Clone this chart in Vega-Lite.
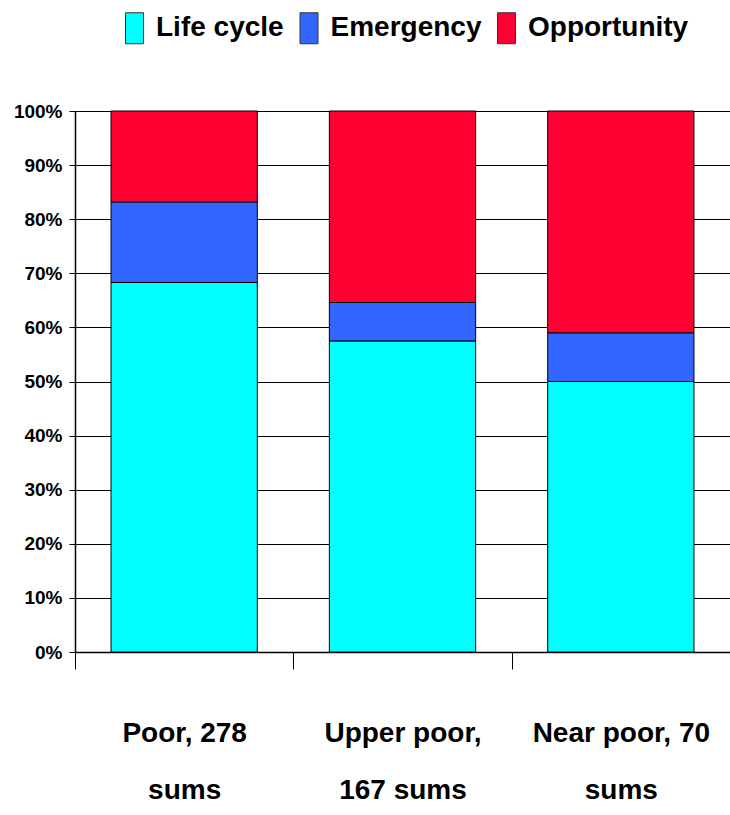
{
  "$schema": "https://vega.github.io/schema/vega-lite/v6.json",
  "autosize": {"type": "none"},
  "width": 655,
  "height": 541,
  "padding": {"left": 75, "top": 111, "right": 0, "bottom": 163},
  "background": "white",
  "config": {
    "view": {"stroke": null},
    "font": "Liberation Sans"
  },
  "data": {
    "values": [
      {"group": "Poor, 278 sums", "type": "Life cycle", "order": 1, "share": 68.3},
      {"group": "Poor, 278 sums", "type": "Emergency", "order": 2, "share": 14.9},
      {"group": "Poor, 278 sums", "type": "Opportunity", "order": 3, "share": 16.8},
      {"group": "Upper poor, 167 sums", "type": "Life cycle", "order": 1, "share": 57.5},
      {"group": "Upper poor, 167 sums", "type": "Emergency", "order": 2, "share": 7.1},
      {"group": "Upper poor, 167 sums", "type": "Opportunity", "order": 3, "share": 35.4},
      {"group": "Near poor, 70 sums", "type": "Life cycle", "order": 1, "share": 50.0},
      {"group": "Near poor, 70 sums", "type": "Emergency", "order": 2, "share": 9.0},
      {"group": "Near poor, 70 sums", "type": "Opportunity", "order": 3, "share": 41.0}
    ]
  },
  "mark": {"type": "bar", "stroke": "#000000", "strokeWidth": 1, "width": {"band": 0.67}},
  "encoding": {
    "x": {
      "field": "group",
      "type": "nominal",
      "sort": ["Poor, 278 sums", "Upper poor, 167 sums", "Near poor, 70 sums"],
      "scale": {"paddingInner": 0, "paddingOuter": 0},
      "axis": {
        "title": null,
        "labelAngle": 0,
        "labelFont": "Liberation Sans",
        "labelFontSize": 28,
        "labelFontWeight": "bold",
        "labelColor": "#000000",
        "labelLineHeight": 57,
        "labelBaseline": "top",
        "labelPadding": 50,
        "labelLimit": 0,
        "labelExpr": "!datum.label ? '' : (datum.label == 'Upper poor, 167 sums' ? ['Upper poor,', '167 sums'] : [replace(datum.label, ' sums', ''), 'sums'])",
        "tickBand": "extent",
        "tickSize": 17,
        "tickColor": "#000000",
        "tickWidth": 1,
        "domainColor": "#000000",
        "domainWidth": 1.5,
        "grid": false
      }
    },
    "y": {
      "field": "share",
      "type": "quantitative",
      "stack": "zero",
      "scale": {"domain": [0, 100], "nice": false},
      "axis": {
        "title": null,
        "values": [0, 10, 20, 30, 40, 50, 60, 70, 80, 90, 100],
        "labelExpr": "datum.value + '%'",
        "labelFont": "Liberation Sans",
        "labelFontSize": 19,
        "labelFontWeight": "bold",
        "labelColor": "#000000",
        "labelPadding": 7,
        "tickSize": 6,
        "tickColor": "#000000",
        "domainColor": "#000000",
        "domainWidth": 1.5,
        "grid": true,
        "gridColor": "#000000",
        "gridWidth": 1.2
      }
    },
    "color": {
      "field": "type",
      "type": "nominal",
      "sort": ["Life cycle", "Emergency", "Opportunity"],
      "scale": {
        "domain": ["Life cycle", "Emergency", "Opportunity"],
        "range": ["#00FFFF", "#3366FF", "#FF0033"]
      },
      "legend": {
        "title": null,
        "orient": "none",
        "direction": "horizontal",
        "legendX": 43.5,
        "legendY": -99,
        "symbolType": "M-0.58,-1H0.58V1H-0.58Z",
        "symbolSize": 961,
        "symbolStrokeColor": "#333333",
        "symbolStrokeWidth": 1,
        "symbolOpacity": 1,
        "labelFont": "Liberation Sans",
        "labelFontSize": 28,
        "labelFontWeight": "bold",
        "labelColor": "#000000",
        "labelOffset": 5.5,
        "labelLimit": 0,
        "columnPadding": 8.5,
        "padding": 0
      }
    },
    "order": {"field": "order", "type": "quantitative"}
  }
}
